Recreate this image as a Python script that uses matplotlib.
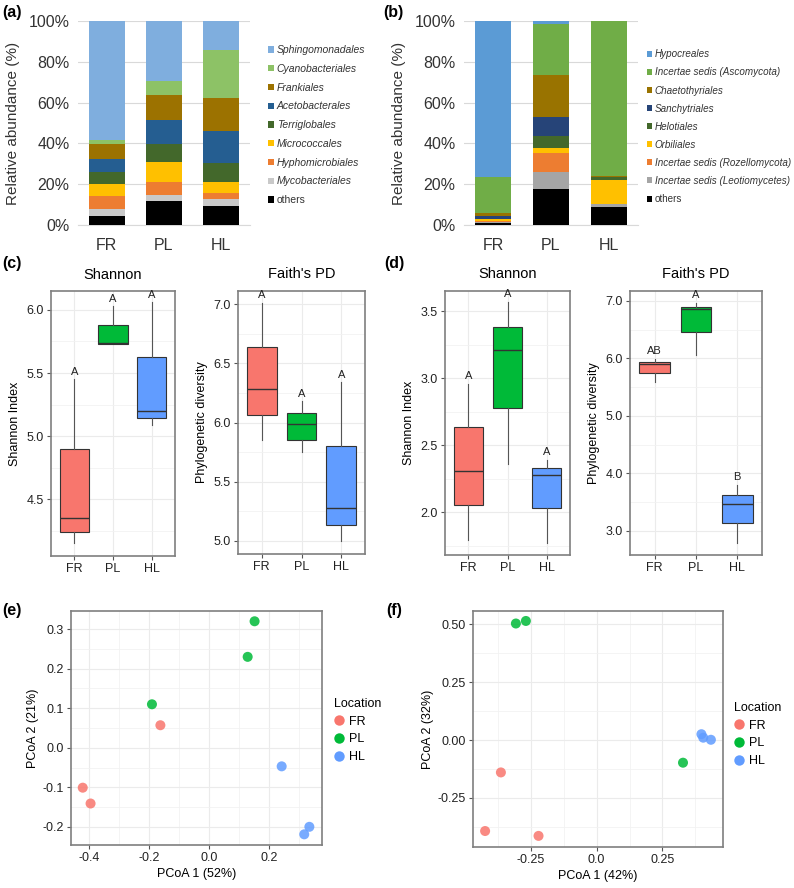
import matplotlib
matplotlib.use('Agg')
import matplotlib.pyplot as plt
from matplotlib.patches import Patch
from matplotlib.lines import Line2D
from matplotlib.ticker import MultipleLocator

plt.rcParams['font.family'] = ['Liberation Sans', 'DejaVu Sans']
plt.rcParams['axes.unicode_minus'] = False

W, H = 794, 888

sites = ['FR', 'PL', 'HL']
site_colors = ['#F8766D', '#00BA38', '#619CFF']

# (a) bacterial orders, legend order (top of stack first), values in % for FR, PL, HL
bac_orders = ['Sphingomonadales', 'Cyanobacteriales', 'Frankiales', 'Acetobacterales',
              'Terriglobales', 'Micrococcales', 'Hyphomicrobiales', 'Mycobacteriales', 'others']
bac_values = [
    [58.3, 29.2, 14.2],
    [2.0, 6.9, 23.4],
    [7.2, 12.4, 16.3],
    [6.4, 11.8, 15.9],
    [5.8, 9.0, 9.1],
    [6.1, 9.6, 5.6],
    [6.4, 6.6, 2.8],
    [3.4, 2.7, 3.4],
    [4.4, 11.8, 9.3],
]
bac_colors = ['#7FAEDE', '#8DC266', '#9C7200', '#255E91', '#43682B',
              '#FFC000', '#ED7D31', '#C9C9C9', '#000000']

# (b) fungal orders
fun_orders = ['Hypocreales', 'Incertae sedis (Ascomycota)', 'Chaetothyriales', 'Sanchytriales',
              'Helotiales', 'Orbiliales', 'Incertae sedis (Rozellomycota)',
              'Incertae sedis (Leotiomycetes)', 'others']
fun_values = [
    [76.3, 1.6, 0.0],
    [18.0, 25.0, 76.2],
    [1.2, 20.6, 0.3],
    [1.5, 9.0, 0.0],
    [0.3, 6.2, 1.2],
    [0.7, 2.1, 12.0],
    [0.5, 9.7, 0.0],
    [0.5, 8.0, 1.3],
    [1.0, 17.8, 9.0],
]
fun_colors = ['#5B9BD5', '#70AD47', '#997300', '#264478', '#43682B',
              '#FFC000', '#ED7D31', '#A5A5A5', '#000000']

# box plot summaries: whisker low, q1, median, q3, whisker high (FR, PL, HL)
c_shannon = [[4.15, 4.24, 4.35, 4.90, 5.45],
             [5.73, 5.73, 5.74, 5.88, 6.03],
             [5.09, 5.14, 5.20, 5.63, 6.06]]
c_faith = [[5.85, 6.065, 6.28, 6.64, 7.01],
           [5.75, 5.85, 5.985, 6.08, 6.18],
           [5.00, 5.135, 5.28, 5.80, 6.34]]
d_shannon = [[1.79, 2.05, 2.31, 2.635, 2.955],
             [2.36, 2.78, 3.21, 3.38, 3.57],
             [1.77, 2.03, 2.28, 2.33, 2.39]]
d_faith = [[5.58, 5.74, 5.90, 5.94, 5.995],
           [6.05, 6.45, 6.86, 6.90, 6.96],
           [2.78, 3.13, 3.46, 3.63, 3.80]]
c_shannon_letters = ['A', 'A', 'A']
c_faith_letters = ['A', 'A', 'A']
d_shannon_letters = ['A', 'A', 'A']
d_faith_letters = ['AB', 'A', 'B']

# PCoA coordinates
e_x = {'FR': [-0.42, -0.394, -0.162], 'PL': [-0.19, 0.128, 0.151], 'HL': [0.241, 0.333, 0.316]}
e_y = {'FR': [-0.101, -0.141, 0.057], 'PL': [0.11, 0.23, 0.32], 'HL': [-0.047, -0.200, -0.219]}
f_x = {'FR': [-0.424, -0.364, -0.221], 'PL': [-0.307, -0.269, 0.328], 'HL': [0.398, 0.405, 0.434]}
f_y = {'FR': [-0.393, -0.140, -0.414], 'PL': [0.503, 0.514, -0.098], 'HL': [0.025, 0.010, 0.001]}

fig = plt.figure(figsize=(W / 100, H / 100), dpi=100)


def add_ax(l, t, r, b):
    return fig.add_axes([l / W, 1 - b / H, (r - l) / W, (b - t) / H])


def fx(x):
    return x / W


def fy(y):
    return 1 - y / H


def stacked(ax, orders, values, colors, legend_x, legend_y, spacing, fsize):
    bottom = [0, 0, 0]
    for name, vals, col in reversed(list(zip(orders, values, colors))):
        ax.bar(range(3), vals, bottom=bottom, width=0.63, color=col, zorder=3)
        bottom = [b + v for b, v in zip(bottom, vals)]
    ax.set_xlim(-0.5, 2.5)
    ax.set_ylim(0, 100)
    ax.set_yticks(range(0, 101, 20))
    ax.set_yticklabels(['%d%%' % v for v in range(0, 101, 20)])
    ax.set_xticks(range(3))
    ax.set_xticklabels(sites)
    ax.tick_params(length=0, labelsize=11.5, colors='#333333', pad=6)
    ax.tick_params(axis='x', pad=9)
    ax.grid(axis='y', color='#D9D9D9', lw=0.8, zorder=0)
    for s in ['left', 'right', 'top']:
        ax.spines[s].set_visible(False)
    ax.spines['bottom'].set_color('#D9D9D9')
    ax.set_ylabel('Relative abundance (%)', fontsize=11, color='#333333', labelpad=6)
    handles = [Patch(facecolor=c, edgecolor='none') for c in colors]
    leg = fig.legend(handles, orders, loc='center left',
                     bbox_to_anchor=(fx(legend_x), fy(legend_y)), frameon=False,
                     fontsize=fsize, handlelength=0.55, handleheight=0.55,
                     handletextpad=0.3, labelspacing=spacing, borderpad=0, borderaxespad=0)
    for t in leg.get_texts():
        if t.get_text() != 'others':
            t.set_fontstyle('italic')
        t.set_color('#333333')


ax_a = add_ax(78, 21, 250, 225)
stacked(ax_a, bac_orders, bac_values, bac_colors, 268, 125.2, 0.84, 7.5)
ax_b = add_ax(464, 21, 638, 225)
stacked(ax_b, fun_orders, fun_values, fun_colors, 646.5, 126.7, 0.82, 7.1)


def theme_bw(ax):
    for s in ax.spines.values():
        s.set_color('#7F7F7F')
        s.set_linewidth(1.2)
    ax.grid(which='major', color='#EBEBEB', lw=0.8, zorder=0)
    ax.grid(which='minor', color='#F2F2F2', lw=0.6, zorder=0)
    ax.set_axisbelow(True)
    ax.tick_params(which='major', length=3, width=0.8, color='#555555',
                   labelsize=9, labelcolor='#222222', pad=2)
    ax.tick_params(which='minor', length=0)


def boxes(ax, stats, letters, title, ylim, ymajor, fmt, ylabel):
    bstats = [{'whislo': s[0], 'q1': s[1], 'med': s[2], 'q3': s[3], 'whishi': s[4]}
              for s in stats]
    art = ax.bxp(bstats, positions=[1, 2, 3], widths=0.75, patch_artist=True,
                 showfliers=False, showcaps=False,
                 boxprops=dict(edgecolor='#333333', linewidth=0.8),
                 whiskerprops=dict(color='#555555', linewidth=0.8),
                 medianprops=dict(color='#333333', linewidth=1.0))
    for patch, col in zip(art['boxes'], site_colors):
        patch.set_facecolor(col)
    for i, (s, lab) in enumerate(zip(stats, letters)):
        ax.annotate(lab, (i + 1, s[4]), xytext=(0, 5.5), textcoords='offset points',
                    ha='center', va='center', fontsize=8, color='#222222')
    ax.set_xlim(0.4, 3.6)
    ax.set_ylim(*ylim)
    ax.yaxis.set_major_locator(MultipleLocator(ymajor))
    ax.yaxis.set_minor_locator(MultipleLocator(ymajor / 2))
    ax.yaxis.set_major_formatter(fmt)
    ax.set_xticks([1, 2, 3])
    ax.set_xticklabels(sites)
    theme_bw(ax)
    ax.grid(which='minor', axis='x', visible=False)
    ax.set_title(title, fontsize=10.5, pad=9)
    ax.set_ylabel(ylabel, fontsize=9, labelpad=4)


ax_c1 = add_ax(51, 291, 175, 556)
boxes(ax_c1, c_shannon, c_shannon_letters, 'Shannon', (4.05, 6.15), 0.5, '{x:.1f}', 'Shannon Index')
ax_c2 = add_ax(238, 291, 365, 554)
boxes(ax_c2, c_faith, c_faith_letters, "Faith's PD", (4.89, 7.11), 0.5, '{x:.1f}', 'Phylogenetic diversity')
ax_d1 = add_ax(445, 291, 570, 555)
boxes(ax_d1, d_shannon, d_shannon_letters, 'Shannon', (1.68, 3.65), 0.5, '{x:.1f}', 'Shannon Index')
ax_d2 = add_ax(630, 291, 762, 555)
boxes(ax_d2, d_faith, d_faith_letters, "Faith's PD", (2.58, 7.17), 1.0, '{x:.1f}', 'Phylogenetic diversity')


def pcoa(ax, xs, ys, xlim, ylim, xmajor, ymajor, xfmt, yfmt, xlabel, ylabel, leg_x, leg_y):
    for site, col in zip(sites, site_colors):
        ax.scatter(xs[site], ys[site], s=52, color=col, alpha=0.85, edgecolors='none', zorder=3)
    ax.set_xlim(*xlim)
    ax.set_ylim(*ylim)
    ax.xaxis.set_major_locator(MultipleLocator(xmajor))
    ax.xaxis.set_minor_locator(MultipleLocator(xmajor / 2))
    ax.yaxis.set_major_locator(MultipleLocator(ymajor))
    ax.yaxis.set_minor_locator(MultipleLocator(ymajor / 2))
    ax.xaxis.set_major_formatter(xfmt)
    ax.yaxis.set_major_formatter(yfmt)
    theme_bw(ax)
    ax.set_xlabel(xlabel, fontsize=9, labelpad=3)
    ax.set_ylabel(ylabel, fontsize=9, labelpad=3)
    handles = [Line2D([], [], marker='o', ls='none', markersize=7.5, color=c,
                      markeredgecolor='none') for c in site_colors]
    leg = fig.legend(handles, sites, title='Location', loc='upper left',
                     bbox_to_anchor=(fx(leg_x), fy(leg_y)), frameon=False,
                     fontsize=9, title_fontsize=9, handlelength=0.8, handletextpad=0.4,
                     labelspacing=0.45, borderpad=0, borderaxespad=0)
    leg._legend_box.align = 'left'


ax_e = add_ax(71, 611, 322, 845)
pcoa(ax_e, e_x, e_y, (-0.459, 0.375), (-0.246, 0.346), 0.2, 0.1, '{x:.1f}', '{x:.1f}',
     'PCoA 1 (52%)', 'PCoA 2 (21%)', 334, 698)
ax_f = add_ax(473, 611, 723, 847)
pcoa(ax_f, f_x, f_y, (-0.47, 0.48), (-0.462, 0.557), 0.25, 0.25,
     lambda v, p: '0.0' if abs(v) < 1e-9 else '%.2f' % v, '{x:.2f}',
     'PCoA 1 (42%)', 'PCoA 2 (32%)', 734, 702)

for lab, x, y in [('(a)', 2, 12), ('(b)', 383, 12), ('(c)', 2, 263), ('(d)', 384, 263),
                  ('(e)', 2, 610), ('(f)', 386, 610)]:
    fig.text(fx(x), fy(y), lab, fontsize=11.5, fontweight='bold', va='center', ha='left')

fig.savefig('out.png', dpi=100)
